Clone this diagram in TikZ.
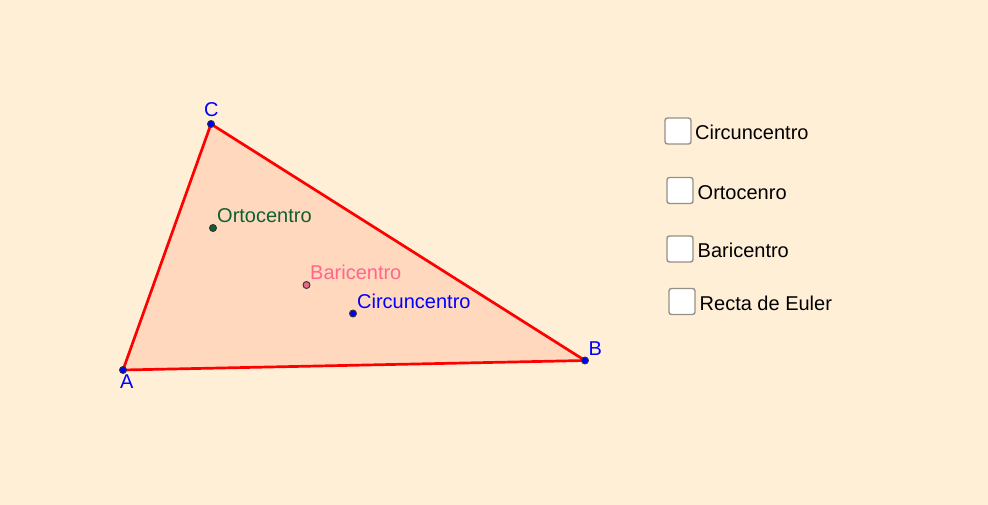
\documentclass[tikz,border=0pt]{standalone}
\usepackage{fontspec}
\setmainfont{Liberation Sans}
\definecolor{bgc}{RGB}{255,239,215}
\definecolor{fillc}{RGB}{255,216,190}
\definecolor{ptblue}{RGB}{0,0,255}
\definecolor{ortho}{RGB}{15,95,50}
\definecolor{bari}{RGB}{255,102,140}
\definecolor{boxline}{RGB}{150,145,135}
\tikzset{
  x=1pt,y=-1pt,
  pt/.style={circle,draw=black!80,line width=0.9pt,inner sep=0pt,minimum size=7pt,fill=#1},
  lbl/.style={anchor=base west,inner sep=0pt,font=\fontsize{20}{22}\selectfont,text=#1},
  edge/.style={draw=red,line width=2.7pt,shorten >=-0.6pt,shorten <=-0.6pt},
  chk/.style={draw=boxline,fill=white,rounded corners=2.5pt,line width=1.4pt,minimum size=26pt,inner sep=0pt,anchor=center}
}
\begin{document}
\begin{tikzpicture}
\useasboundingbox (0,0) rectangle (988,504);
\fill[bgc] (-3,-3) rectangle (991,507);
\coordinate (a) at (123,370);
\coordinate (b) at (585,360.5);
\coordinate (c) at (211,124);
\fill[fillc] (a) -- (b) -- (c) -- cycle;
\draw[edge] (a) -- (b);
\draw[edge] (b) -- (c);
\draw[edge] (c) -- (a);
\node[pt=ptblue] (A) at (a) {};
\node[pt=ptblue] (B) at (b) {};
\node[pt=ptblue] (C) at (c) {};
\node[pt=ortho] (O) at (213,228) {};
\node[pt=bari!80!gray] (G) at (306.5,285) {};
\node[pt=ptblue] (K) at (353,313.5) {};
\node[lbl=ptblue] (la) at (120,388) {A};
\node[lbl=ptblue] (lb) at (588.5,355) {B};
\node[lbl=ptblue] (lc) at (204,116) {C};
\node[lbl=ortho] (lo) at (217,222) {Ortocentro};
\node[lbl=bari] (lg) at (310,279) {Baricentro};
\node[lbl=ptblue] (lk) at (357,308) {Circuncentro};
\node[chk] (c1) at (678,131) {};
\node[chk] (c2) at (680,190.5) {};
\node[chk] (c3) at (680,249) {};
\node[chk] (c4) at (682,301.5) {};
\node[lbl=black] (t1) at (695,139) {Circuncentro};
\node[lbl=black] (t2) at (697.5,199) {Ortocenro};
\node[lbl=black] (t3) at (697.5,257) {Baricentro};
\node[lbl=black] (t4) at (699.5,310) {Recta de Euler};
\end{tikzpicture}
\end{document}
